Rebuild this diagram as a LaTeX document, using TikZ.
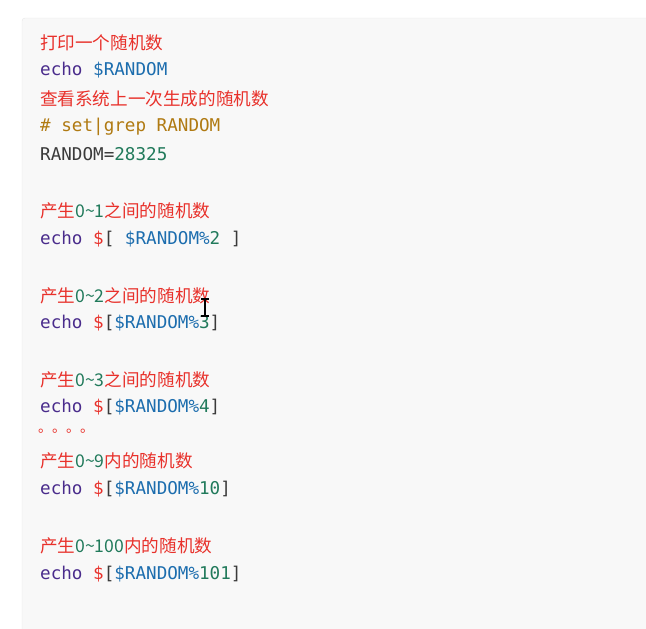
\documentclass[tikz,border=0pt]{standalone}
\usepackage{fontspec}
\setmainfont{Noto Sans CJK SC}
\newfontfamily\codefont{DejaVu Sans Mono}
\definecolor{cnred}{HTML}{E8312B}
\definecolor{kwpurple}{HTML}{4A2C8C}
\definecolor{varblue}{HTML}{1C6DAE}
\definecolor{numgreen}{HTML}{217A5B}
\definecolor{cmtbrown}{HTML}{B07A12}
\definecolor{plaingray}{HTML}{3A3A3A}
\definecolor{boxfill}{HTML}{F8F8F8}
\definecolor{boxline}{HTML}{E6E6E6}
\newcommand{\kw}[1]{\textcolor{kwpurple}{#1}}
\newcommand{\vr}[1]{\textcolor{varblue}{#1}}
\newcommand{\nm}[1]{\textcolor{numgreen}{#1}}
\newcommand{\dl}{\textcolor{cnred}{\$}}
\begin{document}
\begin{tikzpicture}[x=1pt,y=-1pt,
    cnline/.style={anchor=west,inner sep=0pt,text=cnred,font=\fontsize{17.6}{20}\selectfont},
    codeline/.style={anchor=west,inner sep=0pt,text=plaingray,font=\codefont\fontsize{17.6}{20}\selectfont}]
    \useasboundingbox (0,0) rectangle (646,629);
    \draw[boxline,fill=boxfill,rounded corners=3pt] (22,18) rectangle (660,640);
    % lines
    \node[cnline] (l1) at (40,43) {打印一个随机数};
    \node[codeline] (c1) at (40,70) {\kw{echo} \vr{\$RANDOM}};
    \node[cnline] (l2) at (40,99) {查看系统上一次生成的随机数};
    \node[codeline,text=cmtbrown] (c2) at (40,127) {\# set|grep RANDOM};
    \node[codeline] (c3) at (40,154) {RANDOM=\nm{28325}};
    \node[cnline] (l3) at (40,211) {产生\nm{0\textasciitilde1}之间的随机数};
    \node[codeline] (c4) at (40,239) {\kw{echo} \dl[ \vr{\$RANDOM\%}\nm{2} ]};
    \node[cnline] (l4) at (40,296) {产生\nm{0\textasciitilde2}之间的随机数};
    \node[codeline] (c5) at (40,323) {\kw{echo} \dl[\vr{\$RANDOM\%}\nm{3}]};
    \node[cnline] (l5) at (40,380) {产生\nm{0\textasciitilde3}之间的随机数};
    \node[codeline] (c6) at (40,407) {\kw{echo} \dl[\vr{\$RANDOM\%}\nm{4}]};
    \node[cnline,font=\fontsize{14}{16}\selectfont] (dots) at (38,431) {。。。。};
    \node[cnline] (l6) at (40,461) {产生\nm{0\textasciitilde9}内的随机数};
    \node[codeline] (c7) at (40,489) {\kw{echo} \dl[\vr{\$RANDOM\%}\nm{10}]};
    \node[cnline] (l7) at (40,546) {产生\nm{0\textasciitilde100}内的随机数};
    \node[codeline] (c8) at (40,574) {\kw{echo} \dl[\vr{\$RANDOM\%}\nm{101}]};
    % text cursor
    \draw[black,line width=1.6pt] (205,299) -- (205,316);
    \draw[black,line width=1.2pt] (201,299) -- (209,299) (201,316) -- (209,316);
\end{tikzpicture}
\end{document}
